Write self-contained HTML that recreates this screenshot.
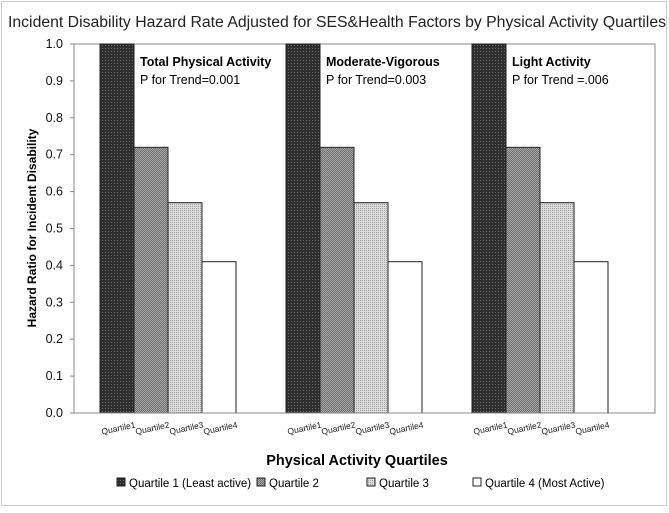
<!DOCTYPE html>
<html><head><meta charset="utf-8"><style>
body{margin:0;background:#fff;font-family:"Liberation Sans",sans-serif}
svg text{font-family:"Liberation Sans",sans-serif}
</style></head><body>
<svg width="669" height="508" id="c">
<defs>
<pattern id="p1" width="3" height="3" patternUnits="userSpaceOnUse"><rect width="3" height="3" fill="#2e2e2e"/><rect width="1" height="1" fill="#6a6a6a"/></pattern>
<pattern id="p2" width="2" height="2" patternUnits="userSpaceOnUse"><rect width="2" height="2" fill="#6e6e6e"/><rect width="1" height="1" fill="#a8a8a8"/><rect x="1" y="1" width="1" height="1" fill="#a8a8a8"/></pattern>
<pattern id="p3" width="2" height="2" patternUnits="userSpaceOnUse"><rect width="2" height="2" fill="#dcdcdc"/><rect width="1" height="1" fill="#a0a0a0"/></pattern>
</defs>
<rect x="1.5" y="1.5" width="665" height="504" fill="#fff" stroke="#999" stroke-dasharray="1,1"/>
<text x="8" y="27" font-size="15.5" fill="#222" textLength="658" lengthAdjust="spacingAndGlyphs">Incident Disability Hazard Rate Adjusted for SES&amp;Health Factors by Physical Activity Quartiles</text>
<rect x="74" y="44" width="581" height="369" fill="#fff" stroke="#888"/>
<g id="bars"></g><g id="axes"></g>
<text transform="translate(36,228) rotate(-90)" text-anchor="middle" font-size="12" font-weight="bold">Hazard Ratio for Incident Disability</text>
<text x="357" y="465" text-anchor="middle" font-size="14.5" font-weight="bold">Physical Activity Quartiles</text>
<g id="legend" font-size="11.5"></g>
</svg>
<script>
const groups=["Total Physical Activity","Moderate-Vigorous","Light Activity"];
const trends=["P for Trend=0.001","P for Trend=0.003","P for Trend =.006"];
const quartiles=["Quartile1","Quartile2","Quartile3","Quartile4"];
const values=[[1.0,0.72,0.57,0.41],[1.0,0.72,0.57,0.41],[1.0,0.72,0.57,0.41]];
const yTicks=[0,0.1,0.2,0.3,0.4,0.5,0.6,0.7,0.8,0.9,1.0];
const legendLabels=["Quartile 1 (Least active)","Quartile 2","Quartile 3","Quartile 4 (Most Active)"];
const fills=["url(#p1)","url(#p2)","url(#p3)","#fff"];
const NS="http://www.w3.org/2000/svg";
const y0=413,y1=44,x0=74,x1=655;
const y=v=>y0-(y0-y1)*v;
const gw=186,bw=34;
const gx=g=>x0+g*gw+26;
function mk(t,a,p){const e=document.createElementNS(NS,t);for(const k in a)e.setAttribute(k,a[k]);p.appendChild(e);return e;}
const bars=document.getElementById('bars'),axes=document.getElementById('axes');
values.forEach((vs,g)=>{
 vs.forEach((v,i)=>{
  const r=mk('rect',{x:gx(g)+i*bw,y:y(v),width:bw,height:y0-y(v),fill:fills[i],stroke:'#222','stroke-width':1},bars);
  
  
  const t=mk('text',{transform:`translate(${gx(g)+i*bw+bw/2+2},${y0+18}) rotate(-12)`,'text-anchor':'middle','font-size':'8.5',fill:'#222'},axes);
  t.textContent=quartiles[i];
  
  
 });
 const lx=gx(g)+bw+6;
 const l1=mk('text',{x:lx,y:66,'font-size':'12.5','font-weight':'bold'},bars);l1.textContent=groups[g];
 
 
 const l2=mk('text',{x:lx,y:84,'font-size':'12.5'},bars);l2.textContent=trends[g];
 
 
});
mk('line',{x1:x0,y1:y0,x2:x1,y2:y0,stroke:'#888'},axes);
yTicks.forEach(v=>{
 mk('line',{x1:x0-4,y1:y(v),x2:x0,y2:y(v),stroke:'#888'},axes);
 const t=mk('text',{x:x0-11,y:y(v)+4,'text-anchor':'end','font-size':'12.5',fill:'#111'},axes);
 t.textContent=v.toFixed(1);
 
 
});
const lg=document.getElementById('legend');
const lxs=[117,257,367,473];
legendLabels.forEach((s,i)=>{
 const r=mk('rect',{x:lxs[i],y:478,width:8,height:8,fill:fills[i],stroke:'#222'},lg);
 
 
 const t=mk('text',{x:lxs[i]+12,y:487},lg);t.textContent=s;
 
 
});
</script>
</body></html>
